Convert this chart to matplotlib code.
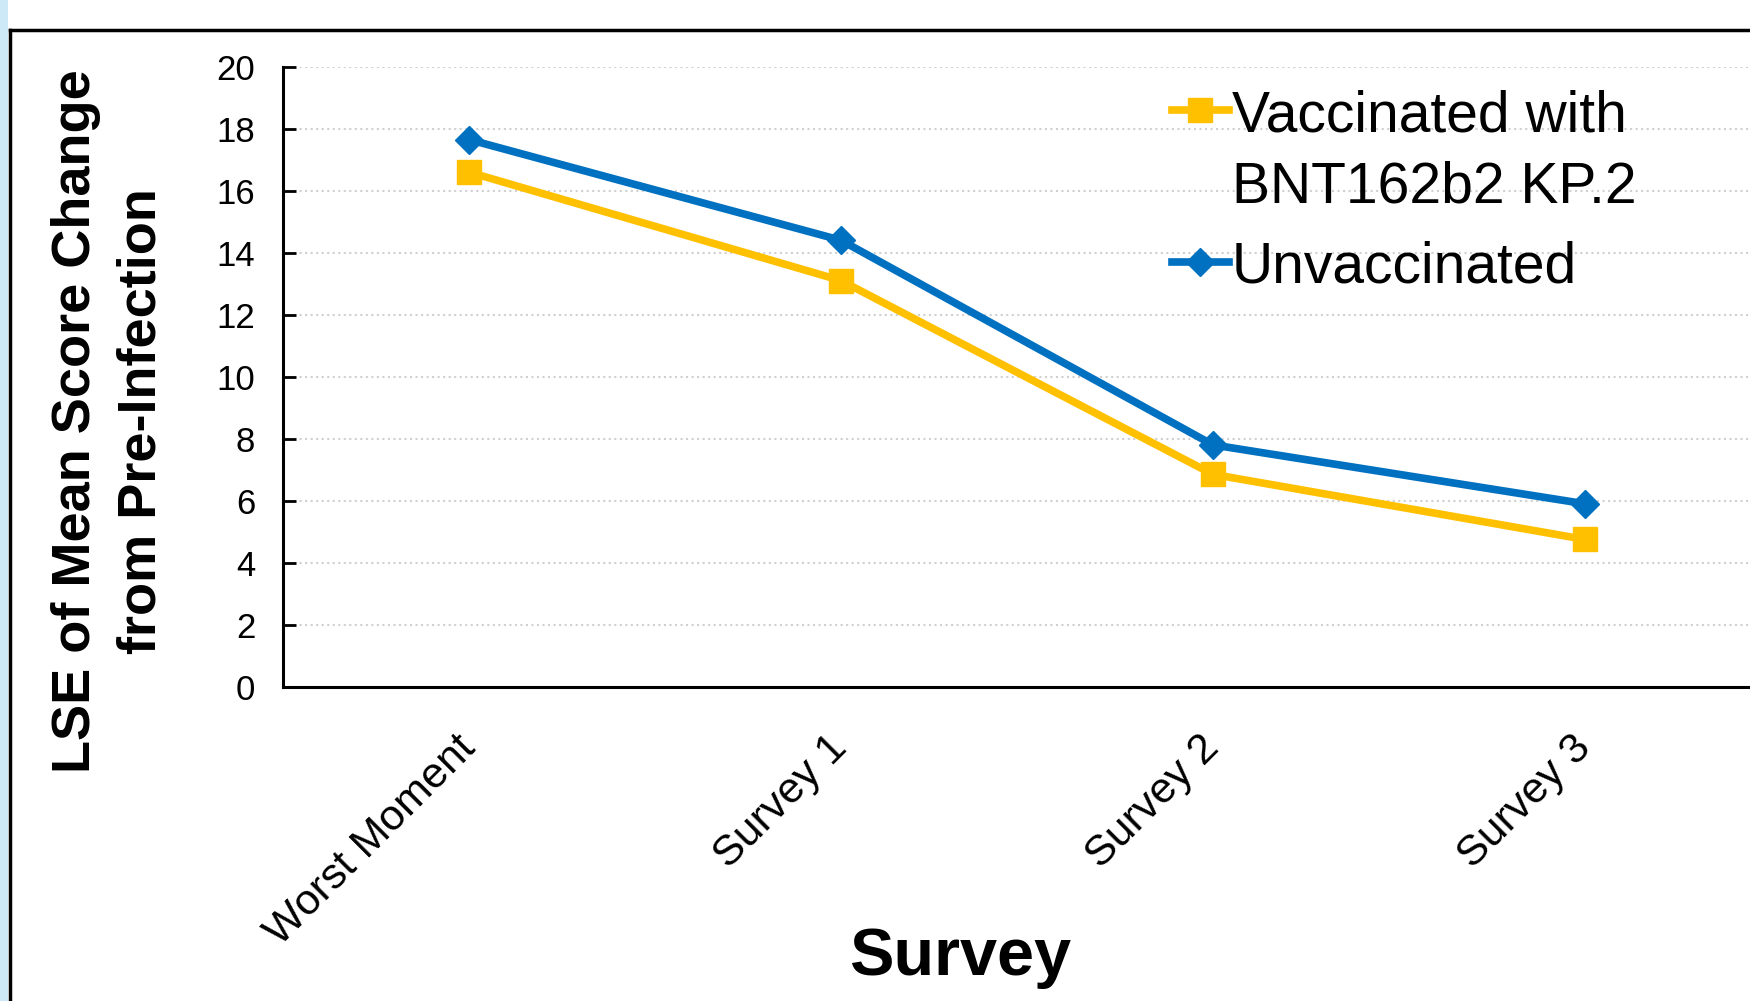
import numpy as np
import matplotlib
matplotlib.use("Agg")
import matplotlib.pyplot as plt
from matplotlib.lines import Line2D
from matplotlib.patches import Rectangle

# data
surveys = ["Worst Moment", "Survey 1", "Survey 2", "Survey 3"]
vaccinated = [16.6, 13.1, 6.85, 4.75]
unvaccinated = [17.65, 14.4, 7.8, 5.9]
yticks = [0, 2, 4, 6, 8, 10, 12, 14, 16, 18, 20]

plt.rcParams['font.family'] = ['Liberation Sans', 'DejaVu Sans']

fig = plt.figure(figsize=(17.5, 10.01), dpi=100)
ax = fig.add_axes([283 / 1750, 1 - 686.7 / 1001, 1488 / 1750, 620 / 1001])

x = np.arange(len(surveys))
ax.plot(x, vaccinated, color='#FFC000', lw=5.5, marker='s', ms=17,
        label='Vaccinated with\nBNT162b2 KP.2', zorder=3)
ax.plot(x, unvaccinated, color='#0070C0', lw=5.5, marker='D', ms=14,
        label='Unvaccinated', zorder=3)

ax.set_xlim(-0.5, 3.5)
ax.set_ylim(0, 20)
ax.set_yticks(yticks)
ax.set_xticks(x)
ax.set_xticklabels(surveys, rotation=45, ha='right', va='center',
                   rotation_mode='anchor', fontsize=31)
ax.tick_params(axis='x', length=0, pad=40)
ax.tick_params(axis='y', direction='in', length=9, width=2, labelsize=25, pad=20)
ax.yaxis.grid(True, linestyle=':', color='#d0d0d0', lw=1.5)
ax.set_axisbelow(True)
for s in ['top', 'right']:
    ax.spines[s].set_visible(False)
ax.spines['left'].set_linewidth(2.2)
ax.spines['bottom'].set_linewidth(2.2)

leg = ax.legend(loc='upper left', bbox_to_anchor=(1172 / 1750, 1 - 90 / 1001),
                bbox_transform=fig.transFigure, frameon=False, fontsize=41,
                handlelength=1.0, handletextpad=0.05, borderpad=0,
                borderaxespad=0, labelspacing=0.45)
for t in leg.get_texts():
    t.set_linespacing(1.4)
# put the first handle next to the first line of its two-line label
leg._legend_handle_box.get_children()[0].get_children()[0].align = 'top'

fig.text(109 / 1750, 1 - 421 / 1001, 'LSE of Mean Score Change\nfrom Pre-Infection',
         rotation=90, ha='center', va='center', multialignment='center',
         fontsize=39, fontweight='bold', linespacing=1.4)
fig.text(960 / 1750, 1 - 958 / 1001, 'Survey', ha='center', va='center',
         fontsize=48, fontweight='bold')

# frame pieces of the slide
fig.add_artist(Rectangle((0, 0), 8 / 1750, 1, transform=fig.transFigure,
                         color='#cde8f6', lw=0))
fig.add_artist(Line2D([9.5 / 1750, 9.5 / 1750], [0, 1 - 30 / 1001],
                      transform=fig.transFigure, color='black', lw=2.5))
fig.add_artist(Line2D([9.5 / 1750, 1], [1 - 30 / 1001, 1 - 30 / 1001],
                      transform=fig.transFigure, color='black', lw=2.5))

fig.savefig('out.png', dpi=100)
